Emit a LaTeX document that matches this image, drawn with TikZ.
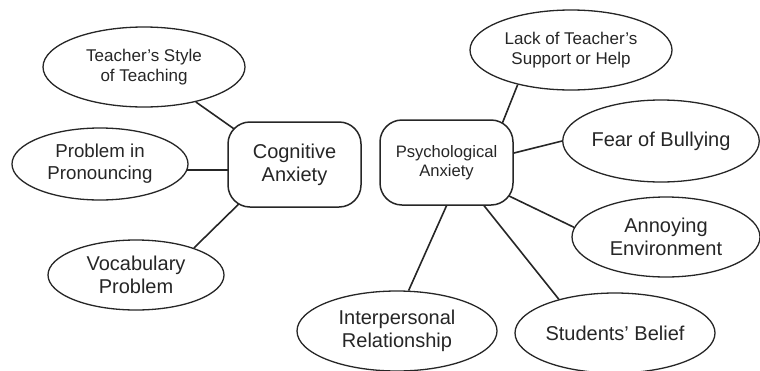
\documentclass[tikz,border=0pt]{standalone}
\usepackage{fontspec}
\setmainfont{Liberation Sans}
\usetikzlibrary{shapes.geometric,backgrounds}
\definecolor{ink}{HTML}{262626}
\begin{document}
\begin{tikzpicture}[x=1pt,y=-1pt,
  oval/.style={ellipse,draw=ink,line width=1.3pt,fill=white,inner sep=0pt,align=center,text=ink},
  hub/.style={rectangle,rounded corners=22pt,draw=ink,line width=1.5pt,fill=white,align=center,text=ink,minimum width=133pt,minimum height=85pt,inner sep=0pt},
  conn/.style={line width=1.6pt,draw=ink,shorten >=-14pt},
  fbig/.style={font=\fontsize{20}{23}\selectfont},
  fmid/.style={font=\fontsize{18.7}{22}\selectfont},
  fsml/.style={font=\fontsize{17}{20}\selectfont},
  fpsy/.style={font=\fontsize{16.6}{19}\selectfont}]
\useasboundingbox (0,0) rectangle (760,370);
\node[oval,fsml,minimum width=202pt,minimum height=80pt] (tsty) at (144,67) {Teacher’s Style\\of Teaching};
\node[oval,fmid,minimum width=176pt,minimum height=72pt] (prob) at (100,164) {Problem in\\Pronouncing};
\node[oval,fbig,minimum width=176pt,minimum height=70pt] (voc) at (136,275) {Vocabulary\\Problem};
\node[hub,fbig] (cog) at (294.5,164.5) {Cognitive\\Anxiety};
\node[hub,fpsy] (psy) at (446.5,162.5) {Psychological\\Anxiety};
\node[oval,fsml,minimum width=202pt,minimum height=80pt] (lack) at (571,50) {Lack of Teacher’s\\Support or Help};
\node[oval,fbig,minimum width=194pt,minimum height=82pt] (fear) at (661,141) {Fear of Bullying};
\node[oval,fbig,minimum width=188pt,minimum height=80pt] (ann) at (666,237) {Annoying\\Environment};
\node[oval,fbig,minimum width=200pt,minimum height=80pt] (stu) at (615,333) {Students’ Belief};
\node[oval,fbig,minimum width=200pt,minimum height=80pt] (inter) at (397,331) {Interpersonal\\Relationship};
\begin{scope}[on background layer]
  \draw[conn] (tsty.-34) -- (cog.149.3);
  \draw[conn] (prob.-4.6) -- (prob.-4.6 -| cog.west);
  \draw[conn] (voc.25.8) -- (cog.216.3);
  \draw[conn] (lack.213.7) -- (psy.37.5);
  \draw[conn] (fear.180.6) -- (psy.8.1);
  \draw[conn] (ann.174.4) -- (psy.-28.2);
  \draw[conn] (stu.149.6) -- (psy.-49.3);
  \draw[conn] (inter.74.6) -- (psy.-90);
\end{scope}
\end{tikzpicture}
\end{document}
